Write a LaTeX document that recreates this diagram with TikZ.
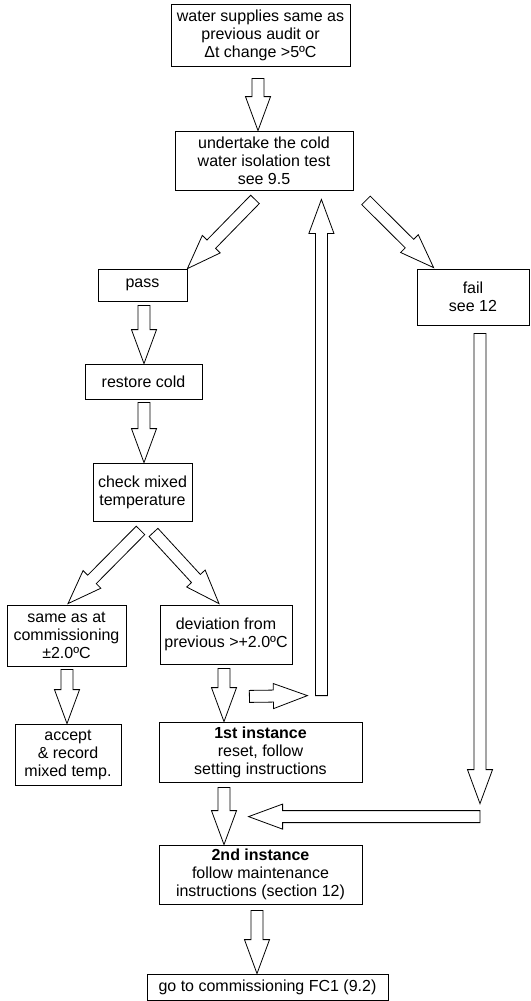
\documentclass[tikz,border=0pt]{standalone}
\usepackage{fontspec}
\setmainfont{Liberation Sans}
\usetikzlibrary{calc}

\tikzset{
  box/.style={draw, line width=0.6pt, fill=white, align=center, inner sep=0pt},
  boxsize/.style 2 args={minimum width=#1*0.75pt, minimum height=#2*0.75pt},
  blockarrow/.style={draw, line width=0.6pt, fill=white, line join=miter}
}

% hollow block arrow from #1 to #2
\newcommand{\fatarrow}[2]{%
  \draw[blockarrow] let \p1=($(#2)-(#1)$), \n1={atan2(\y1,\x1)}, \n2={veclen(\x1,\y1)-25.5} in
    ($(#1)+(\n1+90:4.5pt)$) -- ($(#1)+(\n1:\n2)+(\n1+90:4.5pt)$)
    -- ($(#1)+(\n1:\n2)+(\n1+90:9.4pt)$) -- (#2)
    -- ($(#1)+(\n1:\n2)+(\n1-90:9.4pt)$) -- ($(#1)+(\n1:\n2)+(\n1-90:4.5pt)$)
    -- ($(#1)+(\n1-90:4.5pt)$) -- cycle;}

\begin{document}
\begin{tikzpicture}[x=0.75pt, y=-0.75pt, every node/.style={font=\fontsize{12}{13.5}\selectfont}]
    \useasboundingbox (0,0) rectangle (531,1001);

    % Boxes
    \node[box, boxsize={179}{62}] (audit) at (260.5,35) {water supplies same as\\previous audit or\\Δt change >5ºC};
    \node[box, boxsize={178}{59}] (isotest) at (264,160.5) {undertake the cold\\water isolation test\\see 9.5};
    \node[box, boxsize={89}{32}] (pass) at (142.5,285) {pass};
    \node[box, boxsize={112}{56}] (fail) at (473,297) {fail\\see 12};
    \node[box, boxsize={117}{35}] (restore) at (143.5,381.5) {restore cold};
    \node[box, boxsize={99}{58}] (checkmix) at (142.5,492) {check mixed\\temperature};
    \node[box, boxsize={119}{61}] (same) at (66.5,635.5) {same as at\\commissioning\\±2.0ºC};
    \node[box, boxsize={132}{59}] (deviation) at (226,634.5) {deviation from\\previous >+2.0ºC};
    \node[box, boxsize={106}{61}] (accept) at (68,754.5) {accept\\\& record\\mixed temp.};
    \node[box, boxsize={203}{60}] (first) at (260.5,752) {\textbf{1st instance}\\reset, follow\\setting instructions};
    \node[box, boxsize={203}{59}] (second) at (260.5,874.5) {\textbf{2nd instance}\\follow maintenance\\instructions (section 12)};
    \node[box, boxsize={241}{26}] (commission) at (267.5,987) {go to commissioning FC1 (9.2)};

    % Arrow ends
    \coordinate (a1) at ($(audit.south)+(-2.5,12)$);
    \coordinate (a2) at ($(isotest.south)+(-9,9)$);
    \coordinate (a3) at ($(isotest.south)+(102,10)$);
    \coordinate (a3t) at ($(fail.north west)+(17,-1)$);
    \coordinate (a4) at ($(pass.south)+(1.5,4)$);
    \coordinate (a5) at ($(restore.south)+(0.5,3)$);
    \coordinate (a6) at ($(checkmix.south)+(-2,9)$);
    \coordinate (a6t) at ($(same.north)+(1.5,-1)$);
    \coordinate (a7) at ($(checkmix.south)+(11,11)$);
    \coordinate (a7t) at ($(deviation.north)+(-7,-1)$);
    \coordinate (a8) at ($(same.south)+(0.5,3)$);
    \coordinate (a9) at ($(deviation.south)+(-2,4)$);
    \coordinate (up) at ($(first.north east)+(-41,-26)$);
    \coordinate (upt) at ($(isotest.south east)+(-32,9)$);
    \coordinate (side) at ($(deviation.south east)+(-43,32)$);
    \coordinate (sidet) at ($(up)+(-14,0)$);
    \coordinate (f1) at ($(fail.south)+(7,8)$);
    \coordinate (f1t) at ($(f1 |- second.north)+(0,-41)$);
    \coordinate (f2) at ($(f1 |- second.north)+(0,-28)$);
    \coordinate (f2t) at ($(second.north west)+(90,-28)$);
    \coordinate (a14) at ($(first.south)+(-36.5,5)$);
    \coordinate (a15) at ($(second.south)+(-3.5,6)$);

    % Block arrows
    \fatarrow{a1}{a1 |- isotest.north}
    \fatarrow{a2}{pass.north east}
    \fatarrow{a3}{a3t}
    \fatarrow{a4}{a4 |- restore.north}
    \fatarrow{a5}{a5 |- checkmix.north}
    \fatarrow{a6}{a6t}
    \fatarrow{a7}{a7t}
    \fatarrow{a8}{a8 |- accept.north}
    \fatarrow{a9}{a9 |- first.north}
    \fatarrow{side}{sidet}
    \fatarrow{up}{upt}
    \fatarrow{f1}{f1t}
    \fatarrow{f2}{f2t}
    \fatarrow{a14}{a14 |- second.north}
    \fatarrow{a15}{a15 |- commission.north}
\end{tikzpicture}
\end{document}
